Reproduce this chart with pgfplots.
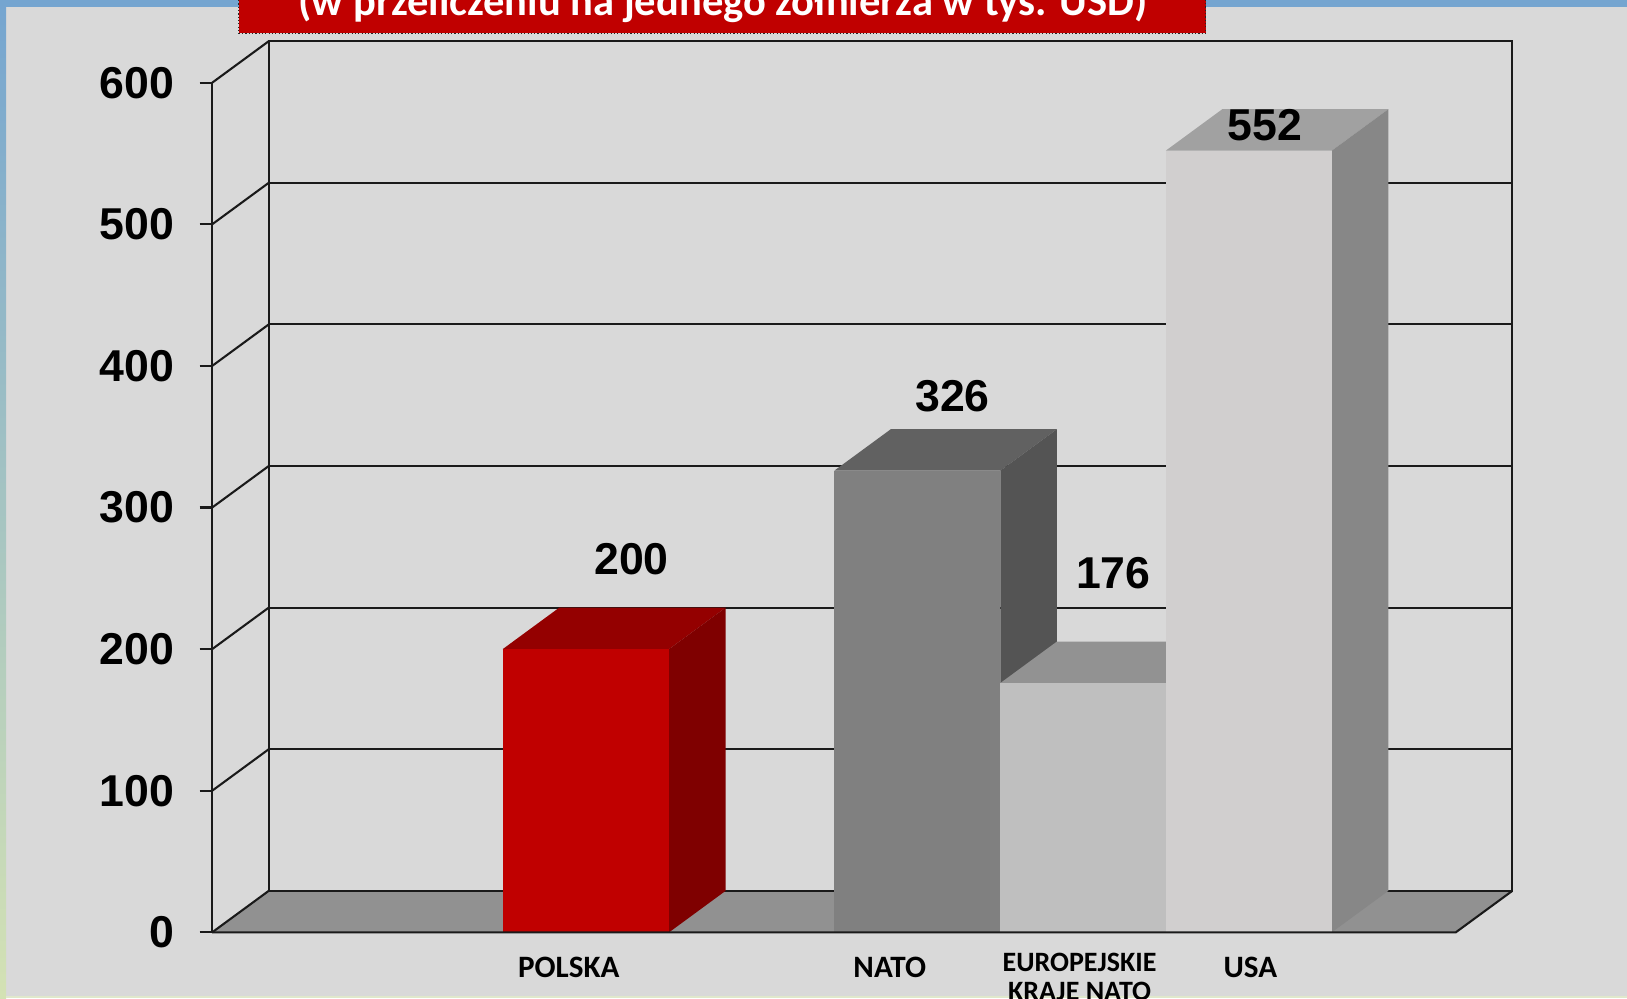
\documentclass[border=0pt]{standalone}
\usepackage{pgfplots}
\pgfplotsset{compat=1.18}
\usepackage{fontspec}
\setmainfont{Carlito}
\newfontfamily\arialf{Liberation Sans}
\definecolor{bg}{HTML}{D9D9D9}
\definecolor{topblue}{HTML}{75A5D0}
\definecolor{leftgreen}{HTML}{D4E2B4}
\definecolor{botgreen}{HTML}{E0E8CC}
\definecolor{floorc}{HTML}{919191}
\definecolor{linec}{HTML}{1A1A1A}
\definecolor{plfront}{HTML}{C00000}
\definecolor{pltop}{HTML}{940000}
\definecolor{plside}{HTML}{7F0000}
\definecolor{nafront}{HTML}{808080}
\definecolor{natop}{HTML}{616161}
\definecolor{naside}{HTML}{545454}
\definecolor{eufront}{HTML}{BFBFBF}
\definecolor{eutop}{HTML}{929292}
\definecolor{euside}{HTML}{7A7A7A}
\definecolor{usfront}{HTML}{D1CFCF}
\definecolor{ustop}{HTML}{A1A1A1}
\definecolor{usside}{HTML}{878787}
\begin{document}
\begin{tikzpicture}
\begin{axis}[
  x=0.5pt, y=0.68235pt,
  xmin=204.5, xmax=1568, ymin=0, ymax=600,
  clip=false, axis on top,
  axis line style={draw=none},
  xtick=\empty,
  ytick={0,100,...,600},
  ytick pos=left,
  tick align=outside,
  major tick length=6pt,
  ytick style={linec, line width=1pt},
  yticklabel style={font=\arialf\bfseries\fontsize{21.5}{25}\selectfont, anchor=east, inner sep=0pt, xshift=-12pt},
  /pgf/number format/assume math mode=true,
  wall/.style={linec, line width=1pt},
  face/.style={draw=none, fill=#1},
]
% background
\addplot[face=bg] coordinates {(0,-46.5) (1568,-46.5) (1568,658.4) (0,658.4)} -- cycle;
\addplot[face=topblue] coordinates {(0,653.3) (1568,653.3) (1568,658.4) (0,658.4)} -- cycle;
\addplot[draw=none, top color=topblue, bottom color=leftgreen] coordinates {(0,-46.5) (5.8,-46.5) (5.8,658.4) (0,658.4)} -- cycle;
\addplot[face=botgreen] coordinates {(5.8,-46.5) (1568,-46.5) (1568,-44.7) (5.8,-44.7)} -- cycle;
% floor
\addplot[face=floorc] coordinates {(204.5,0) (1403,0) (1457.5,29.3) (259,29.3)} -- cycle;
% back wall
\addplot[wall] coordinates {(259,29.3) (259,629.3) (1457.5,629.3) (1457.5,29.3) (259,29.3)};
\addplot[wall] coordinates {(259,129.3) (1457.5,129.3)};
\addplot[wall] coordinates {(259,229.3) (1457.5,229.3)};
\addplot[wall] coordinates {(259,329.3) (1457.5,329.3)};
\addplot[wall] coordinates {(259,429.3) (1457.5,429.3)};
\addplot[wall] coordinates {(259,529.3) (1457.5,529.3)};
% left wall
\addplot[wall] coordinates {(204.5,0) (204.5,600)};
\addplot[wall] coordinates {(204.5,0) (259,29.3)};
\addplot[wall] coordinates {(204.5,100) (259,129.3)};
\addplot[wall] coordinates {(204.5,200) (259,229.3)};
\addplot[wall] coordinates {(204.5,300) (259,329.3)};
\addplot[wall] coordinates {(204.5,400) (259,429.3)};
\addplot[wall] coordinates {(204.5,500) (259,529.3)};
\addplot[wall] coordinates {(204.5,600) (259,629.3)};
% POLSKA 200
\addplot[face=pltop] coordinates {(484.5,200) (644.8,200) (699.3,229.3) (539,229.3)} -- cycle;
\addplot[face=plside] coordinates {(644.8,0) (699.3,29.3) (699.3,229.3) (644.8,200)} -- cycle;
\addplot[face=plfront] coordinates {(484.5,0) (644.8,0) (644.8,200) (484.5,200)} -- cycle;
% NATO 326
\addplot[face=natop] coordinates {(804,326) (964,326) (1018.5,355.3) (858.5,355.3)} -- cycle;
\addplot[face=naside] coordinates {(964,0) (1018.5,29.3) (1018.5,355.3) (964,326)} -- cycle;
\addplot[face=nafront] coordinates {(804,0) (964,0) (964,326) (804,326)} -- cycle;
% EUROPEJSKIE 176
\addplot[face=eutop] coordinates {(964,176) (1123.5,176) (1178,205.3) (1018.5,205.3)} -- cycle;
\addplot[face=euside] coordinates {(1123.5,0) (1178,29.3) (1178,205.3) (1123.5,176)} -- cycle;
\addplot[face=eufront] coordinates {(964,0) (1123.5,0) (1123.5,176) (964,176)} -- cycle;
% USA 552
\addplot[face=ustop] coordinates {(1123.5,552) (1283.5,552) (1338,581.3) (1178,581.3)} -- cycle;
\addplot[face=usside] coordinates {(1283.5,0) (1338,29.3) (1338,581.3) (1283.5,552)} -- cycle;
\addplot[face=usfront] coordinates {(1123.5,0) (1283.5,0) (1283.5,552) (1123.5,552)} -- cycle;
% front floor edges
\addplot[wall] coordinates {(204.5,0) (1403,0) (1457.5,29.3)};
% value labels
\node[font=\arialf\bfseries\fontsize{21.5}{25}\selectfont, inner sep=0pt] at (608.6,263.6) {200};
\node[font=\arialf\bfseries\fontsize{21.5}{25}\selectfont, inner sep=0pt] at (918,378.3) {326};
\node[font=\arialf\bfseries\fontsize{21.5}{25}\selectfont, inner sep=0pt] at (1073,253.5) {176};
\node[font=\arialf\bfseries\fontsize{21.5}{25}\selectfont, inner sep=0pt] at (1219,570.1) {552};
% category labels
\node[font=\bfseries\fontsize{15}{18}\selectfont, inner sep=0pt, anchor=base] at (548.2,-31.8) {POLSKA};
\node[font=\bfseries\fontsize{15}{18}\selectfont, inner sep=0pt, anchor=base] at (857.5,-31.8) {NATO};
\node[font=\bfseries\fontsize{15}{18}\selectfont, inner sep=0pt, anchor=base] at (1205,-31.8) {USA};
\node[font=\bfseries\fontsize{13.5}{14}\selectfont, inner sep=0pt, anchor=base] at (1040.4,-27.8) {EUROPEJSKIE};
\node[font=\bfseries\fontsize{13.5}{14}\selectfont, inner sep=0pt, anchor=base] at (1040.4,-48.3) {KRAJE NATO};
% title box
\addplot[fill=plfront, draw=black!85, densely dotted, line width=0.6pt] coordinates {(230,634.9) (1162,634.9) (1162,700) (230,700)} -- cycle;
\node[font=\bfseries\fontsize{20.5}{24}\selectfont, text=white, inner sep=0pt, anchor=base] at (697,647.8) {(w przeliczeniu na jednego żołnierza w tys. USD)};
\coordinate (bl) at (0,-46.5);
\coordinate (tr) at (1568,658.4);
\end{axis}
\pgfresetboundingbox
\useasboundingbox (bl) rectangle (tr);
\end{tikzpicture}
\end{document}
